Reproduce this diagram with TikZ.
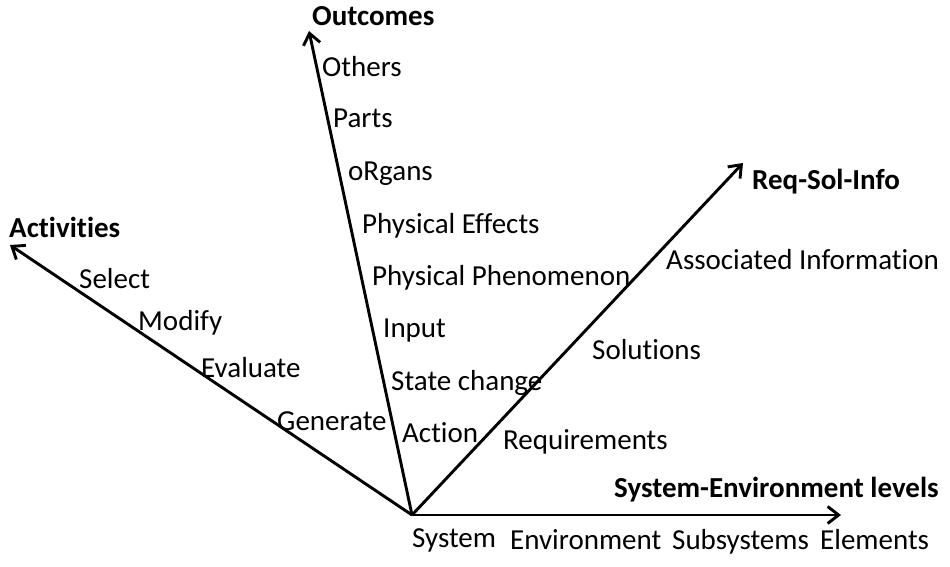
\documentclass[tikz,border=0pt]{standalone}
\usepackage{fontspec}
\setmainfont{Carlito}[Ligatures=NoCommon]
\usetikzlibrary{arrows.meta}
\begin{document}
\begin{tikzpicture}[x=1pt,y=-1pt,
  ax/.style={line width=2.9pt,-{Straight Barb[length=11pt,width=17pt,line width=2.9pt]}},
  lbl/.style={anchor=base west,inner sep=0pt,font=\fontsize{29}{34}\selectfont},
  ttl/.style={lbl,font=\fontsize{29}{34}\selectfont\bfseries}]
\useasboundingbox (0,0) rectangle (950,567);
\coordinate (O) at (412,515);
\coordinate (act) at (10,245);
\coordinate (out) at (309,31);
\coordinate (req) at (743,163);
\coordinate (sys) at (841,515);
\draw[ax] (O) -- (act);
\draw[ax] (O) -- (out);
\draw[ax] (O) -- (req);
\draw[ax] (O) -- (sys);
% Outcomes
\node[ttl] (t1) at (312,26) {Outcomes};
\node[lbl] (o1) at (322,77) {Others};
\node[lbl] (o2) at (333,128) {Parts};
\node[lbl] (o3) at (348,180) {oRgans};
\node[lbl] (o4) at (362,233) {Physical Effects};
\node[lbl] (o5) at (372,285) {Physical Phenomenon};
\node[lbl] (o6) at (383,337) {Input};
\node[lbl] (o7) at (391,390) {State change};
\node[lbl] (o8) at (402,442) {Action};
% Activities
\node[ttl] (t2) at (9,237) {Activities};
\node[lbl] (a1) at (79,288) {Select};
\node[lbl] (a2) at (138,330) {Modify};
\node[lbl] (a3) at (201,377) {Evaluate};
\node[lbl] (a4) at (277,430) {Generate};
% Req-Sol-Info
\node[ttl] (t3) at (752,189) {Req-Sol-Info};
\node[lbl] (r1) at (666,269) {Associated Information};
\node[lbl] (r2) at (592,359) {Solutions};
\node[lbl] (r3) at (503,449) {Requirements};
% System-Environment
\node[ttl] (t4) at (614,497) {System-Environment levels};
\node[lbl] (s1) at (412,547) {System};
\node[lbl] (s2) at (510,549) {Environment};
\node[lbl] (s3) at (672,549) {Subsystems};
\node[lbl] (s4) at (820,549) {Elements};
\end{tikzpicture}
\end{document}
